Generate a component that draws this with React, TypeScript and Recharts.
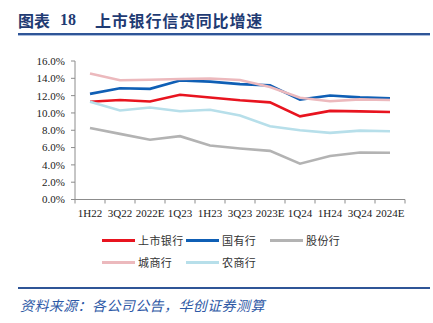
import { LineChart, Line, XAxis, YAxis } from "recharts";

const categories = ["1H22", "3Q22", "2022E", "1Q23", "1H23", "3Q23", "2023E", "1Q24", "1H24", "3Q24", "2024E"];

// 上市银行 / 国有行 / 股份行 / 城商行 / 农商行 (%)
const listedBanks = [11.3, 11.5, 11.32, 12.1, 11.78, 11.46, 11.22, 9.6, 10.24, 10.18, 10.1];
const stateBanks = [12.2, 12.85, 12.78, 13.75, 13.62, 13.33, 13.18, 11.54, 12.02, 11.8, 11.68];
const jointStockBanks = [8.27, 7.58, 6.9, 7.32, 6.24, 5.9, 5.62, 4.14, 5.02, 5.42, 5.4];
const cityBanks = [14.55, 13.77, 13.84, 13.92, 13.97, 13.8, 13.0, 11.75, 11.35, 11.57, 11.5];
const ruralBanks = [11.28, 10.28, 10.63, 10.2, 10.37, 9.7, 8.46, 8.0, 7.7, 7.96, 7.88];

const yTicks = [0, 2, 4, 6, 8, 10, 12, 14, 16];

const series = [
  { key: "listed", name: "上市银行", color: "#e8141f", values: listedBanks },
  { key: "state", name: "国有行", color: "#0f5fb5", values: stateBanks },
  { key: "joint", name: "股份行", color: "#b3b3b3", values: jointStockBanks },
  { key: "city", name: "城商行", color: "#ecb9bd", values: cityBanks },
  { key: "rural", name: "农商行", color: "#b7dfea", values: ruralBanks },
];

const data = categories.map((c, i) => {
  const row: Record<string, string | number> = { cat: c };
  series.forEach((s) => (row[s.key] = s.values[i]));
  return row;
});

const W = 433;
const H = 323;
const PLOT_W = 330;
const band = PLOT_W / categories.length;
const serif = "'Liberation Serif', 'Times New Roman', serif";
const cjk = "'Noto Sans CJK SC', sans-serif";

function XTick(props: any) {
  const { x, y, index } = props;
  const left = x - band / 2;
  return (
    <g>
      <line x1={left} y1={y} x2={left} y2={y + 4} stroke="#8c8c8c" />
      {index === categories.length - 1 && (
        <line x1={x + band / 2} y1={y} x2={x + band / 2} y2={y + 4} stroke="#8c8c8c" />
      )}
      <text x={x} y={y + 17} textAnchor="middle" fontSize={11} fontFamily={serif} fill="#222">
        {props.payload.value}
      </text>
    </g>
  );
}

export default function App() {
  return (
    <div style={{ position: "absolute", left: 0, top: 0, width: W, height: H, background: "#fff", overflow: "hidden" }}>
      <div style={{ position: "absolute", left: 18, top: 11, fontFamily: cjk, fontWeight: 700, fontSize: 16, color: "#1f3b73", whiteSpace: "nowrap", lineHeight: "18px" }}>
        <span>图表</span>
        <span style={{ position: "absolute", left: 42, fontFamily: serif }}>18</span>
        <span style={{ position: "absolute", left: 77, letterSpacing: 0.8 }}>上市银行信贷同比增速</span>
      </div>
      <div style={{ position: "absolute", left: 18, top: 33, width: 412, height: 2, background: "#2f5597" }} />
      <div style={{ position: "absolute", left: 18, top: 35, width: 412, height: 1, background: "#a9bcdc" }} />

      <div style={{ position: "absolute", left: 0, top: 0 }}>
        <LineChart width={W} height={H} data={data} margin={{ top: 61, right: 28, left: 15, bottom: 93.5 }}>
          <XAxis
            dataKey="cat"
            scale="band"
            interval={0}
            height={30}
            tickSize={0}
            tickMargin={0}
            tickLine={false}
            axisLine={{ stroke: "#8c8c8c" }}
            tick={XTick}
          />
          <YAxis
            width={60}
            domain={[0, 16]}
            ticks={yTicks}
            interval={0}
            tickSize={4}
            tickMargin={6}
            axisLine={{ stroke: "#8c8c8c" }}
            tickLine={{ stroke: "#8c8c8c" }}
            tickFormatter={(v: number) => v.toFixed(1) + "%"}
            tick={{ fontSize: 11, fontFamily: serif, fill: "#222" }}
          />
          {series.map((s) => (
            <Line
              key={s.key}
              dataKey={s.key}
              name={s.name}
              stroke={s.color}
              strokeWidth={2.6}
              dot={false}
              type="linear"
              isAnimationActive={false}
            />
          ))}
        </LineChart>
      </div>

      <div style={{ position: "absolute", left: 102, top: 231, width: 260, display: "flex", flexWrap: "wrap", rowGap: 4 }}>
        {series.map((s) => (
          <div key={s.key} style={{ width: 84, height: 18, display: "flex", alignItems: "center" }}>
            <div style={{ width: 33, height: 3, background: s.color, marginRight: 3 }} />
            <span style={{ fontFamily: cjk, fontSize: 11, letterSpacing: 0.4, color: "#333" }}>{s.name}</span>
          </div>
        ))}
      </div>

      <div style={{ position: "absolute", left: 18, top: 287, width: 412, height: 2, background: "#2f5597" }} />
      <div style={{ position: "absolute", left: 20, top: 295, fontFamily: cjk, fontSize: 14, fontStyle: "italic", color: "#2e59a6", letterSpacing: 0.4, whiteSpace: "nowrap", lineHeight: "20px" }}>
        资料来源：各公司公告，华创证券测算
      </div>
    </div>
  );
}
